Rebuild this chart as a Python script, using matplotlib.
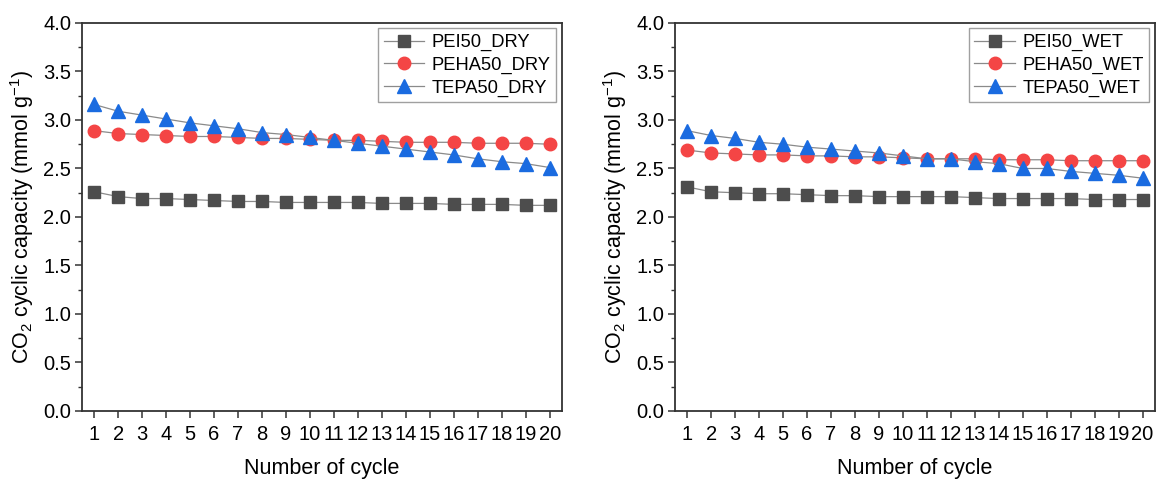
import matplotlib
matplotlib.use("Agg")
import matplotlib.pyplot as plt
from matplotlib.ticker import MultipleLocator, FormatStrFormatter

plt.rcParams["font.family"] = ["Liberation Sans", "DejaVu Sans"]
plt.rcParams["mathtext.fontset"] = "custom"
plt.rcParams["mathtext.rm"] = "Liberation Sans"
plt.rcParams["mathtext.default"] = "regular"

cycles = list(range(1, 21))

pei_dry = [2.26, 2.21, 2.19, 2.19, 2.18, 2.17, 2.16, 2.16, 2.15, 2.15,
           2.15, 2.15, 2.14, 2.14, 2.14, 2.13, 2.13, 2.13, 2.12, 2.12]
peha_dry = [2.89, 2.86, 2.85, 2.84, 2.83, 2.83, 2.82, 2.81, 2.81, 2.80,
            2.79, 2.79, 2.78, 2.77, 2.77, 2.77, 2.76, 2.76, 2.76, 2.75]
tepa_dry = [3.16, 3.09, 3.05, 3.01, 2.97, 2.94, 2.91, 2.87, 2.85, 2.82,
            2.79, 2.76, 2.73, 2.70, 2.67, 2.64, 2.60, 2.57, 2.55, 2.51]

pei_wet = [2.31, 2.26, 2.25, 2.24, 2.24, 2.23, 2.22, 2.22, 2.21, 2.21,
           2.21, 2.21, 2.20, 2.19, 2.19, 2.19, 2.19, 2.18, 2.18, 2.18]
peha_wet = [2.69, 2.66, 2.65, 2.64, 2.64, 2.63, 2.63, 2.62, 2.62, 2.61,
            2.60, 2.60, 2.60, 2.59, 2.59, 2.59, 2.58, 2.58, 2.58, 2.58]
tepa_wet = [2.89, 2.84, 2.81, 2.77, 2.75, 2.72, 2.70, 2.68, 2.66, 2.63,
            2.60, 2.60, 2.57, 2.55, 2.50, 2.50, 2.47, 2.45, 2.43, 2.40]

panels = [
    ("DRY", pei_dry, peha_dry, tepa_dry),
    ("WET", pei_wet, peha_wet, tepa_wet),
]

fig = plt.figure(figsize=(11.58, 4.79), dpi=100)
ax_boxes = [[0.071, 0.142, 0.414, 0.810], [0.583, 0.142, 0.414, 0.810]]

for box, (tag, pei, peha, tepa) in zip(ax_boxes, panels):
    ax = fig.add_axes(box)
    line_kw = dict(color="#8a8a8a", lw=0.9)
    ax.plot(cycles, pei, marker="s", ms=8.5, mfc="#4d4d4d", mec="#4d4d4d",
            label=f"PEI50_{tag}", **line_kw)
    ax.plot(cycles, peha, marker="o", ms=9, mfc="#f44545", mec="#f44545",
            label=f"PEHA50_{tag}", **line_kw)
    ax.plot(cycles, tepa, marker="^", ms=9.5, mfc="#1a6be0", mec="#1a6be0",
            label=f"TEPA50_{tag}", **line_kw)

    ax.set_xlim(0.5, 20.5)
    ax.set_ylim(0, 4.0)
    ax.set_xticks(cycles)
    ax.yaxis.set_major_locator(MultipleLocator(0.5))
    ax.yaxis.set_minor_locator(MultipleLocator(0.25))
    ax.yaxis.set_major_formatter(FormatStrFormatter("%.1f"))
    ax.tick_params(axis="both", which="major", direction="out", length=5,
                   width=1.1, labelsize=14.5, color="#333333")
    ax.tick_params(axis="y", which="minor", direction="out", length=3,
                   width=1.0, color="#333333")
    ax.tick_params(axis="x", pad=5)
    ax.tick_params(axis="y", pad=3)
    for sp in ax.spines.values():
        sp.set_linewidth(1.3)
        sp.set_color("#333333")

    ax.set_xlabel("Number of cycle", fontsize=15.5, labelpad=10)
    ax.set_ylabel("CO$_2$ cyclic capacity (mmol g$^{-1}$)", fontsize=15.5,
                  labelpad=5)

    leg = ax.legend(loc="upper right", fontsize=13.2, fancybox=False,
                    edgecolor="#888888", borderaxespad=0.3, handlelength=2.2,
                    labelspacing=0.3, borderpad=0.3, handletextpad=0.4)
    leg.get_frame().set_linewidth(1.0)

fig.savefig("out.png", dpi=100)
